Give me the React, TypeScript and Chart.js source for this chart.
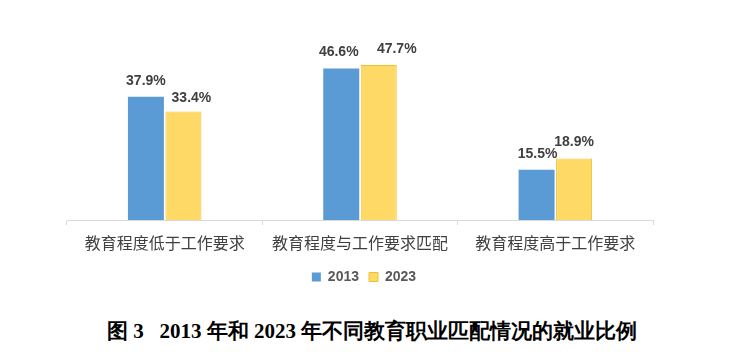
import React, { useEffect, useRef } from 'react';
import { Chart, registerables } from 'chart.js';

Chart.register(...registerables);

const categories = ['教育程度低于工作要求', '教育程度与工作要求匹配', '教育程度高于工作要求'];
const seriesNames = ['2013', '2023'];
const values2013 = [37.9, 46.6, 15.5];
const values2023 = [33.4, 47.7, 18.9];
const yMax = 50;
const chartTitle = '图 3   2013 年和 2023 年不同教育职业匹配情况的就业比例';

// label placement tweaks (style only): [datasetIndex][pointIndex] => [dx, dy]
const labelNudges = [
  [[0, 0], [-2.5, 0], [1, 1]],
  [[8, 3], [18, 0], [0, 0]],
];

export default function App() {
  const ref = useRef<HTMLCanvasElement>(null);

  useEffect(() => {
    if (!ref.current) return;

    const labelPlugin = {
      id: 'valueLabels',
      afterDatasetsDraw(chart: any) {
        const ctx = chart.ctx;
        ctx.save();
        ctx.font = 'bold 14px "Liberation Sans", Arial, sans-serif';
        ctx.fillStyle = '#404040';
        ctx.textAlign = 'center';
        ctx.textBaseline = 'middle';
        chart.data.datasets.forEach((ds: any, i: number) => {
          const meta = chart.getDatasetMeta(i);
          meta.data.forEach((el: any, j: number) => {
            const [dx, dy] = labelNudges[i][j];
            ctx.fillText(Number(ds.data[j]).toFixed(1) + '%', el.x + dx, el.y - 16 + dy);
          });
        });
        ctx.restore();
      },
    };

    const legendShift = {
      id: 'legendShift',
      afterLayout(chart: any) {
        const lg = chart.legend;
        if (lg) {
          lg.left += 4;
          lg.right += 4;
        }
      },
    };

    const chart = new Chart(ref.current, {
      type: 'bar',
      data: {
        labels: categories,
        datasets: [
          {
            label: seriesNames[0],
            data: values2013,
            backgroundColor: '#5B9BD5',
            borderColor: '#5B9BD5',
            borderWidth: 0,
            barPercentage: 0.96,
            categoryPercentage: 0.384,
          },
          {
            label: seriesNames[1],
            data: values2023,
            backgroundColor: '#FFD966',
            borderColor: '#EFC034',
            borderWidth: 1,
            barPercentage: 0.96,
            categoryPercentage: 0.384,
          },
        ],
      },
      options: {
        animation: false,
        responsive: false,
        maintainAspectRatio: false,
        layout: { padding: { left: 67, right: 77, top: 57.5, bottom: 6 } },
        plugins: {
          legend: {
            position: 'bottom',
            labels: {
              boxWidth: 9,
              boxHeight: 9,
              padding: 10,
              color: '#595959',
              font: { family: '"Liberation Sans", Arial, sans-serif', size: 14, weight: 'bold' },
            },
          },
          title: { display: false },
          tooltip: { enabled: false },
        },
        scales: {
          x: {
            grid: {
              display: true,
              drawOnChartArea: false,
              drawTicks: true,
              tickLength: 5,
              color: '#D9D9D9',
              offset: true,
            },
            border: { display: true, color: '#D9D9D9', width: 1 },
            ticks: {
              color: '#404040',
              padding: 8,
              font: { family: '"Noto Sans CJK SC", sans-serif', size: 16 },
            },
            afterFit: (scale: any) => {
              scale.height = 40;
            },
          },
          y: {
            display: false,
            min: 0,
            max: yMax,
          },
        },
      },
      plugins: [labelPlugin, legendShift],
    });

    return () => chart.destroy();
  }, []);

  return (
    <div style={{ position: 'absolute', left: 0, top: 0, width: 730, height: 364, background: '#fff' }}>
      <canvas ref={ref} width={730} height={300} style={{ position: 'absolute', left: 0, top: 0, width: 730, height: 300 }} />
      <div
        style={{
          position: 'absolute',
          left: 107,
          top: 319,
          whiteSpace: 'pre',
          fontFamily: '"Liberation Serif", "DejaVu Serif", serif',
          fontWeight: 'bold',
          fontSize: 21,
          lineHeight: '24px',
          color: '#000',
        }}
      >
        {chartTitle}
      </div>
    </div>
  );
}
